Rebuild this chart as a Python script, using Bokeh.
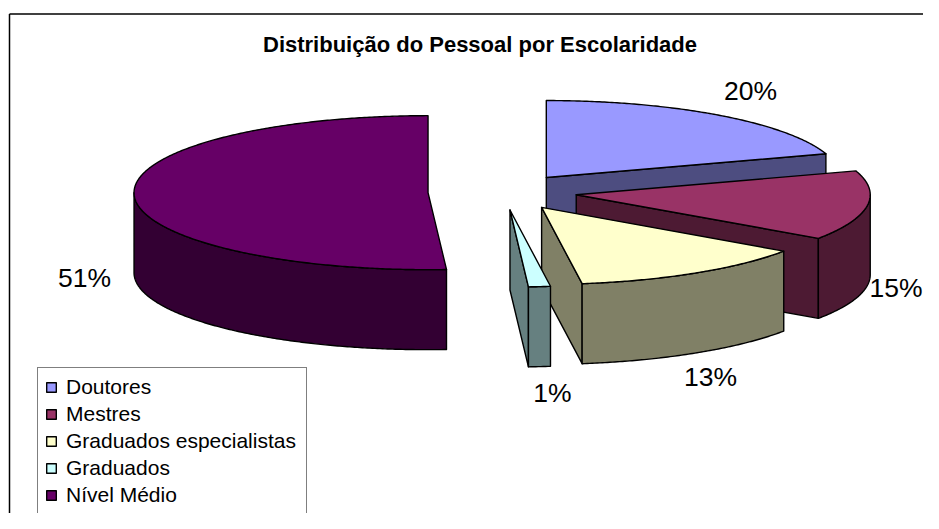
import numpy as np
from bokeh.embed import file_html
from bokeh.resources import INLINE
from bokeh.plotting import figure
from bokeh.models import Legend, LegendItem
from bokeh.core.properties import value

categories = ["Doutores", "Mestres", "Graduados especialistas", "Graduados", "Nível Médio"]
shares = [20.0, 14.6, 13.2, 1.2, 51.0]
top_colors = ["#9999FF", "#993366", "#FFFFCC", "#CCFFFF", "#660066"]
side_colors = ["#4D4D80", "#4D1A33", "#808066", "#668080", "#330033"]
title_text = "Distribuição do Pessoal por Escolaridade"

W, H = 923, 513
p = figure(width=W, height=H, output_backend="svg", toolbar_location=None,
           x_range=(0, W), y_range=(H, 0), min_border=0,
           outline_line_color=None)
p.axis.visible = False
p.grid.visible = False
p.background_fill_color = "white"
p.border_fill_color = "white"

# outer chart border
p.line([9, 9], [H, 13.5], line_color="black", line_width=1.5)
p.line([9, W], [13.5, 13.5], line_color="black", line_width=1.5)

CX, CY, RX, RY, DEPTH = 502, 191.6, 294, 77, 80
EX, EY = 74.5, 18
LW = 1.4


def arc(c, t0, t1):
    t = np.radians(np.linspace(t0, t1, max(2, int(abs(t1 - t0)) * 2 + 2)))
    return c[0] + RX * np.sin(t), c[1] - RY * np.cos(t)


bounds = np.concatenate([[0], np.cumsum(shares)]) * 3.6
faces = {}
for i, cat in enumerate(categories):
    t0, t1 = bounds[i], bounds[i + 1]
    mid = np.radians((t0 + t1) / 2)
    c = (CX + EX * np.sin(mid), CY - EY * np.cos(mid))
    # cut face at the end of the slice
    if t1 < 180:
        ex, ey = arc(c, t1, t1)
        p.patch([c[0], ex[-1], ex[-1], c[0]],
                [c[1], ey[-1], ey[-1] + DEPTH, c[1] + DEPTH],
                fill_color=side_colors[i], line_color="black", line_width=LW, line_join="round")
    # outer wall
    a, b = max(t0, 90), min(t1, 270)
    if a < b:
        wx, wy = arc(c, a, b)
        p.patch(np.concatenate([wx, wx[::-1]]), np.concatenate([wy, wy[::-1] + DEPTH]),
                fill_color=side_colors[i], line_color="black", line_width=LW, line_join="round")
    # top face
    ax, ay = arc(c, t0, t1)
    faces[cat] = p.patch(np.concatenate([[c[0]], ax]), np.concatenate([[c[1]], ay]),
                         fill_color=top_colors[i], line_color="black", line_width=LW, line_join="round")

FONT = value("Liberation Sans")
p.text([479.5], [43.5], text=[title_text], text_font=FONT, text_font_size="22px", text_font_style="bold",
       text_align="center", text_baseline="middle", text_color="black")

labels = [f"{round(s)}%" for s in shares]
lx = [750, 922, 710, 552, 84]
ly = [90, 287, 376, 392, 277]
al = ["center", "right", "center", "center", "center"]
for lab, x, y, a in zip(labels, lx, ly, al):
    p.text([x], [y], text=[lab], text_font=FONT, text_font_size="26.5px", text_align=a,
           text_baseline="middle", text_color="black")

legend = Legend(items=[LegendItem(label=c, renderers=[faces[c]]) for c in categories],
                location=(37, -2), orientation="vertical", margin=0, padding=7, spacing=3,
                glyph_width=12, glyph_height=12, label_height=18, label_width=233, label_standoff=9,
                label_text_font="Liberation Sans", label_text_font_size="21px",
                label_text_color="black", border_line_color="black", border_line_width=1,
                background_fill_color="white", background_fill_alpha=1)
p.add_layout(legend, "center")

open("out.html", "w").write(file_html(p, INLINE))
